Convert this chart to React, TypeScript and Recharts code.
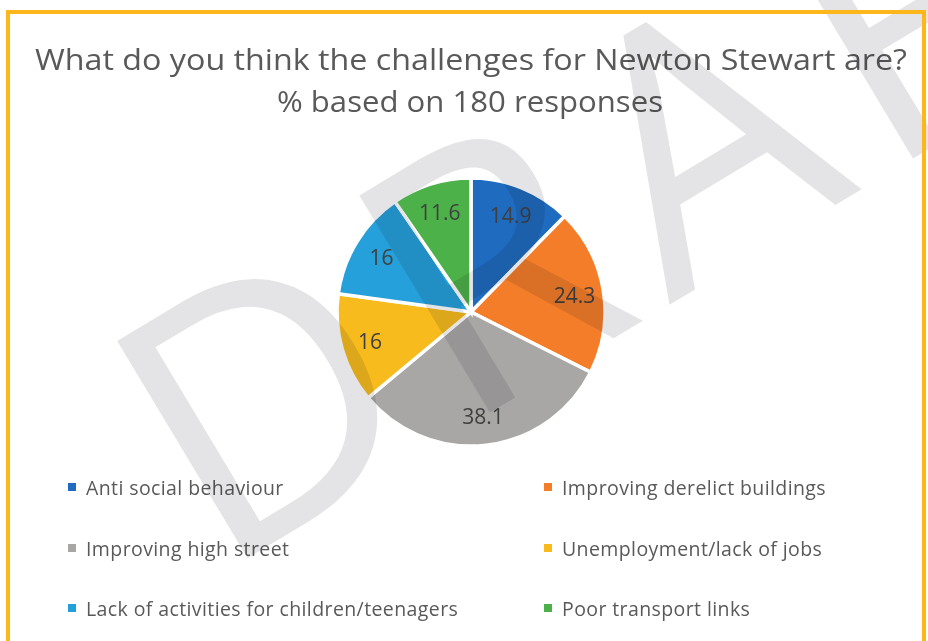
import React from "react";
import { PieChart, Pie, Cell, Legend } from "recharts";

const categories = [
  "Anti social behaviour",
  "Improving derelict buildings",
  "Improving high street",
  "Unemployment/lack of jobs",
  "Lack of activities for children/teenagers",
  "Poor transport links",
];
const values = [14.9, 24.3, 38.1, 16, 16, 11.6];
const colors = ["#1F6BBF", "#F47D2A", "#A9A7A5", "#F7BB1E", "#25A0DA", "#4DB149"];
const titleLines = ["What do you think the challenges for Newton Stewart are?", "% based on 180 responses"];
const watermarkText = "DRAFT";

const data = categories.map((name, i) => ({ name, value: values[i] }));

const FONT = "'Open Sans', sans-serif";
const RAD = Math.PI / 180;

const renderLabel = (props: any) => {
  const { cx, cy, midAngle, value } = props;
  const r = 105;
  const x = cx + r * Math.cos(-midAngle * RAD);
  const y = cy + r * Math.sin(-midAngle * RAD);
  return (
    <text x={x} y={y} textAnchor="middle" dominantBaseline="central" fill="#404040" fontSize={21} fontFamily={FONT}>
      {value}
    </text>
  );
};

const renderLegend = () => {
  const colX = [68, 544];
  const rowY = [487, 548, 608];
  return (
    <div style={{ position: "relative", width: 928, height: 641 }}>
      {categories.map((name, i) => {
        const col = i % 2;
        const row = Math.floor(i / 2);
        return (
          <div
            key={name}
            style={{
              position: "absolute",
              left: colX[col],
              top: rowY[row] - 15,
              height: 30,
              display: "flex",
              alignItems: "center",
              whiteSpace: "nowrap",
              fontFamily: FONT,
              fontSize: 19.5,
              letterSpacing: 0.4,
              color: "#595959",
            }}
          >
            <span style={{ display: "inline-block", width: 8, height: 8, background: colors[i], marginRight: 10 }} />
            <span>{name}</span>
          </div>
        );
      })}
    </div>
  );
};

export default function App() {
  return (
    <div style={{ position: "fixed", left: 0, top: 0, width: 928, height: 641, background: "#fff", overflow: "hidden" }}>
      <svg width={928} height={641} style={{ position: "absolute", left: 0, top: 0 }}>
        <text x={471} y={70} textAnchor="middle" fill="#595959" fontSize={29} fontFamily={FONT} textLength={872} lengthAdjust="spacingAndGlyphs">
          {titleLines[0]}
        </text>
        <text x={470} y={112} textAnchor="middle" fill="#595959" fontSize={29} fontFamily={FONT} textLength={386} lengthAdjust="spacingAndGlyphs">
          {titleLines[1]}
        </text>
      </svg>
      <div style={{ position: "absolute", left: 0, top: 0 }}>
        <PieChart width={928} height={641} margin={{ top: 0, right: 0, bottom: 0, left: 0 }}>
          <Pie
            data={data}
            dataKey="value"
            nameKey="name"
            cx={471}
            cy={312}
            outerRadius={134}
            startAngle={90}
            endAngle={-270}
            stroke="#ffffff"
            strokeWidth={3.5}
            label={renderLabel}
            labelLine={false}
            isAnimationActive={false}
          >
            {data.map((d, i) => (
              <Cell key={d.name} fill={colors[i]} />
            ))}
          </Pie>
          <Legend content={renderLegend} wrapperStyle={{ position: "absolute", left: 0, top: 0, width: 928, height: 641 }} />
        </PieChart>
      </div>
      <svg width={928} height={641} style={{ position: "absolute", left: 0, top: 0, pointerEvents: "none" }}>
        <text
          x={0}
          y={0}
          transform="translate(218,576) rotate(-31)"
          fill="#E4E4E6"
          fontSize={355}
          letterSpacing={25}
          fontFamily={FONT}
          style={{ mixBlendMode: "multiply" }}
        >
          {watermarkText}
        </text>
        <rect x={8} y={12} width={916} height={700} fill="none" stroke="#FDB71A" strokeWidth={4} />
      </svg>
    </div>
  );
}
